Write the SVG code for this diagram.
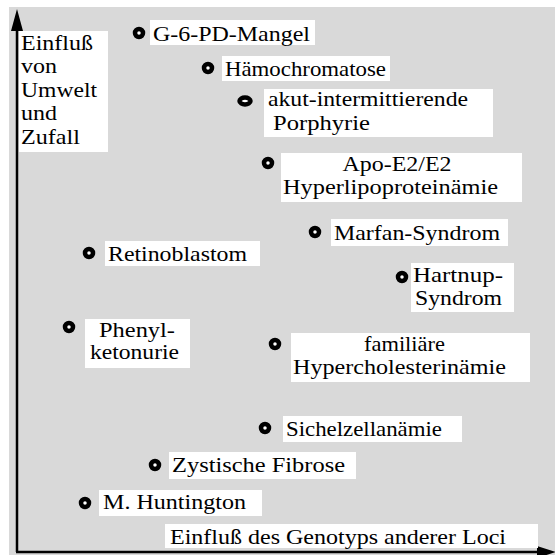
<svg xmlns="http://www.w3.org/2000/svg" width="555" height="555" viewBox="0 0 555 555">
<style>
  .lbl { font-family: "Liberation Serif", "Times New Roman", serif; font-size: 21px; fill: #000; }
  .box { fill: #fff; }
  .dot { fill: #fff; stroke: #000; stroke-width: 4.5; }
  .axis { stroke: #000; stroke-width: 2.5; fill: none; }
</style>
<rect x="9" y="7" width="546" height="548" fill="#d9d9d9"/>
<g id="connectors">
  <path class="axis" d="M17,552 L17,30"/>
  <polygon points="17,9 11,31 23,31" fill="#000"/>
  <path class="axis" d="M16,552 L539,552"/>
  <polygon points="556,552 537,546 537,558" fill="#000"/>
</g>
<g id="ylabel">
  <rect class="box" x="19" y="31" width="89" height="121"/>
  <text class="lbl" x="21" y="50" textLength="72" lengthAdjust="spacingAndGlyphs">Einfluß</text>
  <text class="lbl" x="21" y="73" textLength="36" lengthAdjust="spacingAndGlyphs">von</text>
  <text class="lbl" x="21" y="97" textLength="76" lengthAdjust="spacingAndGlyphs">Umwelt</text>
  <text class="lbl" x="21" y="120" textLength="36" lengthAdjust="spacingAndGlyphs">und</text>
  <text class="lbl" x="21" y="144" textLength="59" lengthAdjust="spacingAndGlyphs">Zufall</text>
</g>
<g id="xlabel">
  <rect class="box" x="165" y="524" width="373" height="24"/>
  <text class="lbl" x="170" y="544" textLength="336" lengthAdjust="spacingAndGlyphs">Einfluß des Genotyps anderer Loci</text>
</g>
<g id="g6pd">
  <circle class="dot" cx="139" cy="33" r="4"/>
  <rect class="box" x="150" y="20" width="165" height="25"/>
  <text class="lbl" x="153" y="41" textLength="157" lengthAdjust="spacingAndGlyphs">G-6-PD-Mangel</text>
</g>
<g id="haemochromatose">
  <circle class="dot" cx="208" cy="68" r="4"/>
  <rect class="box" x="222" y="56" width="168" height="25"/>
  <text class="lbl" x="225" y="76" textLength="161" lengthAdjust="spacingAndGlyphs">Hämochromatose</text>
</g>
<g id="porphyrie">
  <ellipse class="dot" cx="245" cy="101" rx="5.5" ry="3.5"/>
  <rect class="box" x="264" y="89" width="229" height="48"/>
  <text class="lbl" x="268" y="106" textLength="200" lengthAdjust="spacingAndGlyphs">akut-intermittierende</text>
  <text class="lbl" x="273" y="130" textLength="97" lengthAdjust="spacingAndGlyphs">Porphyrie</text>
</g>
<g id="apoe">
  <circle class="dot" cx="268" cy="163" r="4"/>
  <rect class="box" x="281" y="153" width="241" height="49"/>
  <text class="lbl" x="397" y="171" text-anchor="middle" textLength="109" lengthAdjust="spacingAndGlyphs">Apo-E2/E2</text>
  <text class="lbl" x="283" y="194" textLength="215" lengthAdjust="spacingAndGlyphs">Hyperlipoproteinämie</text>
</g>
<g id="marfan">
  <circle class="dot" cx="315" cy="232" r="4"/>
  <rect class="box" x="331" y="219" width="177" height="27"/>
  <text class="lbl" x="334" y="240" textLength="166" lengthAdjust="spacingAndGlyphs">Marfan-Syndrom</text>
</g>
<g id="retinoblastom">
  <circle class="dot" cx="89" cy="253" r="4"/>
  <rect class="box" x="105" y="241" width="155" height="25"/>
  <text class="lbl" x="108" y="261" textLength="139" lengthAdjust="spacingAndGlyphs">Retinoblastom</text>
</g>
<g id="hartnup">
  <circle class="dot" cx="402" cy="277" r="4"/>
  <rect class="box" x="411" y="263" width="103" height="49"/>
  <text class="lbl" x="413" y="282" textLength="90" lengthAdjust="spacingAndGlyphs">Hartnup-</text>
  <text class="lbl" x="415" y="305" textLength="87" lengthAdjust="spacingAndGlyphs">Syndrom</text>
</g>
<g id="pku">
  <circle class="dot" cx="69" cy="327" r="4"/>
  <rect class="box" x="85" y="319" width="105" height="49"/>
  <text class="lbl" x="99" y="337" textLength="76" lengthAdjust="spacingAndGlyphs">Phenyl-</text>
  <text class="lbl" x="90" y="359" textLength="89" lengthAdjust="spacingAndGlyphs">ketonurie</text>
</g>
<g id="fh">
  <circle class="dot" cx="275" cy="344" r="4"/>
  <rect class="box" x="291" y="333" width="239" height="49"/>
  <text class="lbl" x="364" y="351" textLength="81" lengthAdjust="spacingAndGlyphs">familiäre</text>
  <text class="lbl" x="293" y="374" textLength="213" lengthAdjust="spacingAndGlyphs">Hypercholesterinämie</text>
</g>
<g id="sichelzell">
  <circle class="dot" cx="265" cy="428" r="4"/>
  <rect class="box" x="283" y="416" width="179" height="26"/>
  <text class="lbl" x="286" y="436" textLength="156" lengthAdjust="spacingAndGlyphs">Sichelzellanämie</text>
</g>
<g id="cf">
  <circle class="dot" cx="155" cy="465" r="4"/>
  <rect class="box" x="169" y="452" width="187" height="27"/>
  <text class="lbl" x="172" y="472" textLength="173" lengthAdjust="spacingAndGlyphs">Zystische Fibrose</text>
</g>
<g id="huntington">
  <circle class="dot" cx="85" cy="503" r="4"/>
  <rect class="box" x="99" y="490" width="163" height="26"/>
  <text class="lbl" x="103" y="509" textLength="143" lengthAdjust="spacingAndGlyphs">M. Huntington</text>
</g>
</svg>
